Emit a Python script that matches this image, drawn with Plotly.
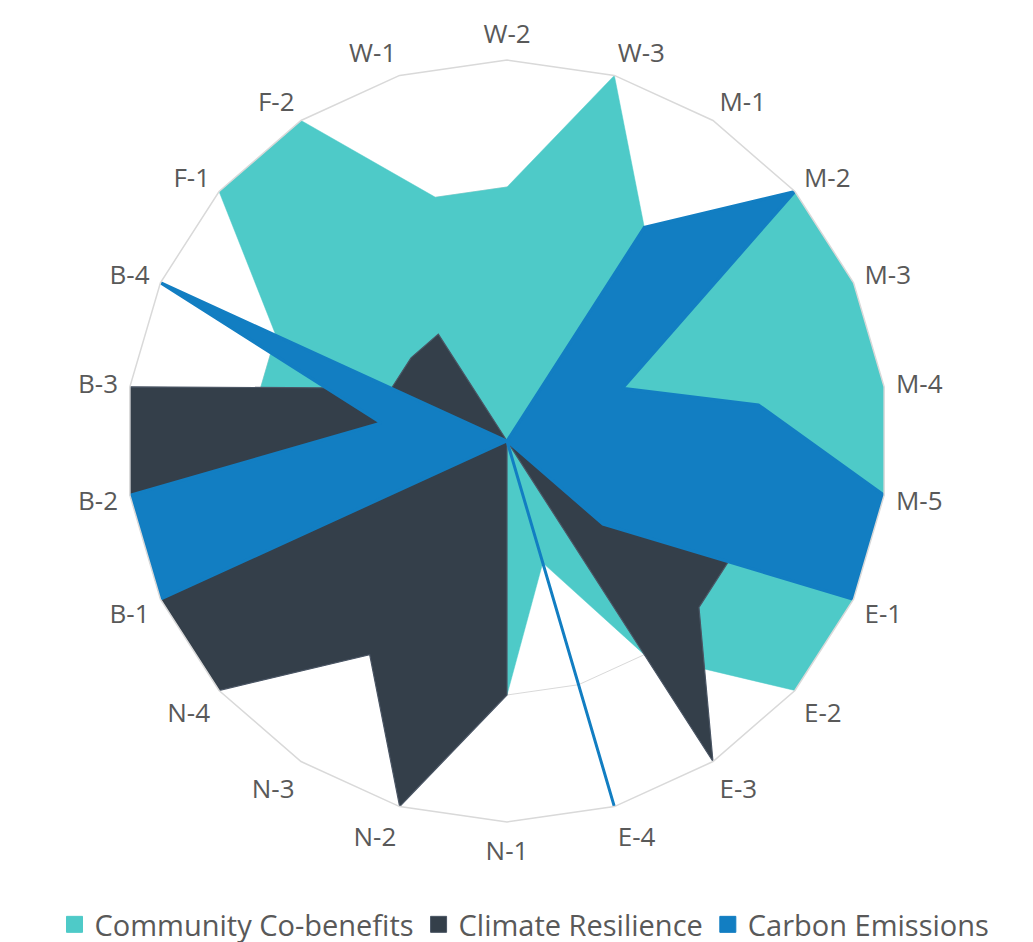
import plotly.graph_objects as go

categories = ["W-2", "W-3", "M-1", "M-2", "M-3", "M-4", "M-5", "E-1", "E-2", "E-3", "E-4",
              "N-1", "N-2", "N-3", "N-4", "B-1", "B-2", "B-3", "B-4", "F-1", "F-2", "W-1"]

community = [2, 3, 2, 3, 3, 3, 3, 3, 3, 2, 1, 2, 2, 2, 2, 2, 2, 2, 2, 3, 3, 2]
resilience = [0, 0, 0, 0, 0, 0, 1, 2, 2, 3, 0, 2, 3, 2, 3, 3, 3, 3, 1, 1, 1, 0]
emissions = [0, 0, 2, 3, 1, 2, 3, 3, 1, 0, 3, 0, 0, 0, 0, 3, 3, 1, 3, 0, 0, 0]

series_names = ["Community Co-benefits", "Climate Resilience", "Carbon Emissions"]
fill_colors = ["#4ECAC8", "#343F4A", "#127EC2"]
line_colors = ["#4ECAC8", "#4A5564", "#127EC2"]
line_widths = [0.5, 1.2, 3]

FONT = "Open Sans"
GRAY = "#595959"

fig = go.Figure()
for name, vals, fc, lc, lw in zip(series_names, [community, resilience, emissions],
                                  fill_colors, line_colors, line_widths):
    fig.add_trace(go.Scatterpolar(
        r=vals + vals[:1],
        theta=categories + categories[:1],
        name=name,
        legendgroup=name,
        showlegend=False,
        mode="lines",
        fill="toself",
        fillcolor=fc,
        line=dict(color=lc, width=lw, shape="linear"),
        hoverinfo="skip",
    ))

# legend entries with square swatches
for name, fc, lc in zip(series_names, fill_colors, line_colors):
    fig.add_trace(go.Scatterpolar(
        r=[None], theta=[None],
        name=name,
        legendgroup=name,
        mode="markers",
        marker=dict(symbol="square", size=17, color=fc, line=dict(color=lc, width=1)),
        showlegend=True,
        hoverinfo="skip",
    ))

fig.update_layout(
    width=1033,
    height=942,
    margin=dict(l=0, r=0, t=0, b=0),
    paper_bgcolor="white",
    plot_bgcolor="white",
    font=dict(family=FONT, color=GRAY, size=26),
    showlegend=True,
    legend=dict(
        orientation="h",
        x=0.5, xanchor="center",
        y=0.027, yanchor="middle",
        font=dict(family=FONT, size=29, color=GRAY),
        itemwidth=30,
        tracegroupgap=0,
    ),
    polar=dict(
        domain=dict(x=[118 / 1033, 880 / 1033], y=[127 / 942, 891 / 942]),
        bgcolor="white",
        gridshape="linear",
        radialaxis=dict(
            range=[0, 3],
            tickvals=[1, 2, 3],
            showticklabels=False,
            ticks="",
            showline=False,
            showgrid=True,
            gridcolor="#D9D9D9",
            gridwidth=1,
        ),
        angularaxis=dict(
            direction="clockwise",
            rotation=90,
            categoryorder="array",
            categoryarray=categories,
            showgrid=False,
            showline=True,
            linecolor="#D9D9D9",
            linewidth=1.5,
            ticks="outside",
            ticklen=6,
            tickcolor="rgba(0,0,0,0)",
            tickfont=dict(family=FONT, size=26, color=GRAY),
        ),
    ),
)

fig.write_html("out.html")
